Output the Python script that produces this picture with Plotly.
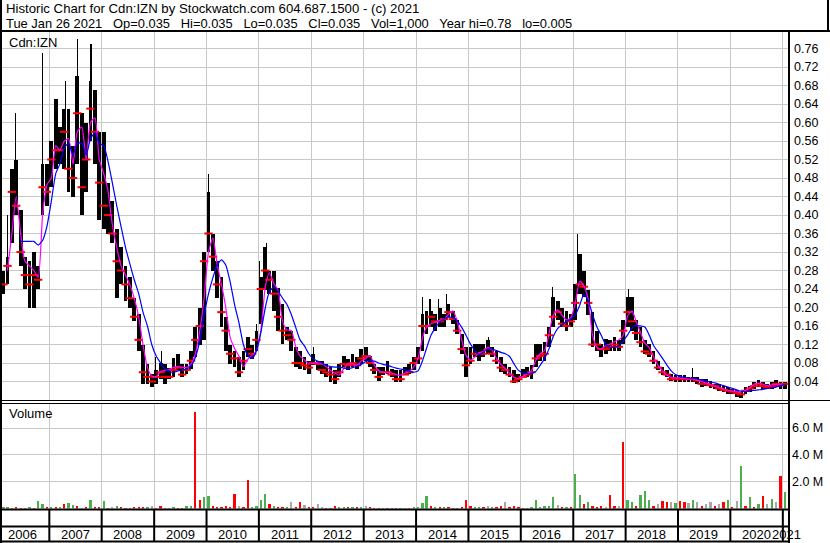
import plotly.graph_objects as go
import pandas as pd

# ---------------- data (monthly, Feb 2006 .. Jan 2021) ----------------
start_month = "2006-02-01"
n_months = 180

low = [
    0.23, 0.25, 0.34, 0.40, 0.29, 0.24, 0.20, 0.20, 0.24, 0.40, 0.42,
    0.46, 0.50, 0.51, 0.50, 0.45, 0.44, 0.51, 0.40, 0.45, 0.56, 0.51, 0.39,
    0.37, 0.36, 0.34, 0.22, 0.25, 0.215, 0.20, 0.17, 0.107, 0.035, 0.035, 0.028,
    0.035, 0.045, 0.035, 0.045, 0.05, 0.064, 0.049, 0.057, 0.067, 0.093, 0.12, 0.13,
    0.32, 0.28, 0.22, 0.157, 0.107, 0.078, 0.071, 0.049, 0.064, 0.093, 0.089, 0.107,
    0.165, 0.237, 0.23, 0.193, 0.15, 0.121, 0.129, 0.107, 0.071, 0.067, 0.064, 0.057,
    0.075, 0.064, 0.057, 0.049, 0.039, 0.035, 0.049, 0.071, 0.064, 0.071, 0.067, 0.078,
    0.085, 0.071, 0.057, 0.042, 0.053, 0.057, 0.049, 0.039, 0.039, 0.053, 0.057, 0.064,
    0.078, 0.107, 0.143, 0.157, 0.15, 0.157, 0.157, 0.179, 0.165, 0.143, 0.10, 0.05,
    0.078, 0.093, 0.085, 0.093, 0.10, 0.093, 0.078, 0.06, 0.057, 0.049, 0.036, 0.039,
    0.049, 0.049, 0.046, 0.071, 0.085, 0.085, 0.114, 0.157, 0.172, 0.157, 0.15, 0.157,
    0.172, 0.23, 0.222, 0.183, 0.114, 0.107, 0.093, 0.10, 0.107, 0.107, 0.107, 0.121,
    0.157, 0.15, 0.129, 0.114, 0.10, 0.093, 0.078, 0.064, 0.053, 0.049, 0.042, 0.039,
    0.039, 0.039, 0.039, 0.039, 0.035, 0.028, 0.031, 0.026, 0.024, 0.02, 0.017, 0.013,
    0.013, 0.006, 0.005, 0.013, 0.017, 0.024, 0.028, 0.024, 0.024, 0.024, 0.028, 0.024,
    0.024,
]

high = [
    0.28, 0.31, 0.50, 0.52, 0.41, 0.31, 0.30, 0.32, 0.29, 0.51, 0.51,
    0.56, 0.65, 0.59, 0.63, 0.63, 0.55, 0.70, 0.62, 0.60, 0.69, 0.67, 0.58,
    0.58, 0.47, 0.43, 0.37, 0.33, 0.29, 0.265, 0.22, 0.185, 0.12, 0.078, 0.057,
    0.064, 0.08, 0.078, 0.07, 0.09, 0.10, 0.078, 0.078, 0.107, 0.157, 0.20, 0.32,
    0.45, 0.36, 0.30, 0.265, 0.18, 0.12, 0.107, 0.093, 0.107, 0.136, 0.12, 0.15,
    0.265, 0.33, 0.28, 0.28, 0.243, 0.208, 0.157, 0.15, 0.114, 0.107, 0.093, 0.085,
    0.10, 0.085, 0.085, 0.078, 0.071, 0.064, 0.078, 0.096, 0.089, 0.10, 0.093, 0.11,
    0.115, 0.096, 0.078, 0.071, 0.071, 0.085, 0.067, 0.064, 0.064, 0.071, 0.078, 0.093,
    0.114, 0.186, 0.193, 0.193, 0.186, 0.20, 0.186, 0.208, 0.193, 0.172, 0.143, 0.114,
    0.114, 0.121, 0.121, 0.121, 0.129, 0.114, 0.107, 0.093, 0.078, 0.071, 0.064, 0.057,
    0.067, 0.071, 0.075, 0.121, 0.121, 0.125, 0.157, 0.222, 0.215, 0.20, 0.193, 0.186,
    0.25, 0.316, 0.28, 0.237, 0.19, 0.15, 0.121, 0.132, 0.129, 0.136, 0.129, 0.172,
    0.222, 0.222, 0.172, 0.157, 0.129, 0.121, 0.107, 0.085, 0.071, 0.064, 0.057, 0.053,
    0.053, 0.053, 0.049, 0.049, 0.049, 0.046, 0.046, 0.042, 0.035, 0.035, 0.031, 0.028,
    0.024, 0.021, 0.017, 0.029, 0.031, 0.039, 0.044, 0.039, 0.035, 0.039, 0.044, 0.039,
    0.039,
]

close = [
    0.25, 0.29, 0.45, 0.42, 0.32, 0.27, 0.25, 0.27, 0.26, 0.46, 0.45,
    0.52, 0.54, 0.54, 0.58, 0.50, 0.48, 0.62, 0.46, 0.52, 0.63, 0.58, 0.47,
    0.42, 0.40, 0.36, 0.30, 0.28, 0.25, 0.22, 0.18, 0.13, 0.06, 0.05, 0.04,
    0.05, 0.06, 0.05, 0.05, 0.065, 0.07, 0.055, 0.065, 0.085, 0.13, 0.16, 0.30,
    0.36, 0.31, 0.25, 0.19, 0.15, 0.10, 0.09, 0.06, 0.085, 0.11, 0.10, 0.13,
    0.24, 0.28, 0.26, 0.23, 0.18, 0.15, 0.14, 0.13, 0.08, 0.08, 0.075, 0.07,
    0.08, 0.078, 0.065, 0.06, 0.055, 0.045, 0.06, 0.078, 0.075, 0.08, 0.075, 0.09,
    0.095, 0.08, 0.065, 0.05, 0.06, 0.06, 0.055, 0.045, 0.045, 0.055, 0.06, 0.08,
    0.09, 0.16, 0.16, 0.18, 0.17, 0.17, 0.175, 0.19, 0.175, 0.15, 0.11, 0.075,
    0.085, 0.10, 0.10, 0.10, 0.11, 0.10, 0.085, 0.07, 0.065, 0.055, 0.04, 0.045,
    0.05, 0.055, 0.06, 0.09, 0.095, 0.10, 0.14, 0.18, 0.19, 0.165, 0.16, 0.17,
    0.21, 0.25, 0.245, 0.21, 0.12, 0.12, 0.11, 0.11, 0.115, 0.12, 0.115, 0.15,
    0.19, 0.17, 0.145, 0.125, 0.105, 0.10, 0.085, 0.07, 0.06, 0.055, 0.045, 0.045,
    0.045, 0.045, 0.045, 0.045, 0.042, 0.035, 0.035, 0.032, 0.03, 0.025, 0.022, 0.02,
    0.018, 0.015, 0.012, 0.02, 0.025, 0.03, 0.035, 0.03, 0.028, 0.03, 0.035, 0.032,
    0.035,
]

ma_fast = [
    None, 0.28, 0.36, 0.44, 0.36, 0.30, 0.29, 0.28, 0.265, 0.40, 0.465,
    0.48, 0.55, 0.54, 0.56, 0.565, 0.51, 0.58, 0.59, 0.52, 0.60, 0.61, 0.52,
    0.49, 0.45, 0.38, 0.33, 0.29, 0.27, 0.25, 0.22, 0.18, 0.12, 0.07, 0.052,
    0.05, 0.062, 0.064, 0.066, 0.07, 0.072, 0.071, 0.07, 0.078, 0.10, 0.15, 0.22,
    0.32, 0.35, 0.295, 0.25, 0.20, 0.135, 0.112, 0.095, 0.072, 0.088, 0.097, 0.107,
    0.15, 0.245, 0.275, 0.252, 0.237, 0.17, 0.152, 0.15, 0.115, 0.095, 0.087, 0.078,
    0.079, 0.081, 0.078, 0.072, 0.064, 0.058, 0.054, 0.068, 0.078, 0.078, 0.075, 0.084,
    0.09, 0.096, 0.076, 0.064, 0.06, 0.06, 0.058, 0.055, 0.054, 0.058, 0.062, 0.071,
    0.09, 0.135, 0.157, 0.165, 0.168, 0.172, 0.175, 0.185, 0.193, 0.17, 0.13, 0.097,
    0.086, 0.093, 0.102, 0.105, 0.114, 0.108, 0.09, 0.077, 0.068, 0.058, 0.049, 0.047,
    0.051, 0.057, 0.063, 0.086, 0.10, 0.107, 0.142, 0.184, 0.195, 0.183, 0.173, 0.178,
    0.21, 0.257, 0.247, 0.218, 0.14, 0.114, 0.11, 0.118, 0.121, 0.126, 0.13, 0.14,
    0.182, 0.192, 0.17, 0.146, 0.123, 0.113, 0.093, 0.075, 0.063, 0.054, 0.049, 0.048,
    0.048, 0.047, 0.046, 0.046, 0.043, 0.04, 0.037, 0.033, 0.03, 0.027, 0.024, 0.021,
    0.019, 0.018, 0.017, 0.021, 0.027, 0.034, 0.036, 0.034, 0.031, 0.033, 0.034, 0.034,
    0.034,
]

ma_slow = [
    None, None, None, None, 0.343, 0.343, 0.343, 0.343, 0.335, 0.345, 0.375,
    0.43, 0.49, 0.51, 0.545, 0.555, 0.53, 0.555, 0.555, 0.53, 0.565, 0.578, 0.555,
    0.55, 0.515, 0.47, 0.42, 0.375, 0.33, 0.295, 0.26, 0.23, 0.19, 0.16, 0.12,
    0.095, 0.08, 0.068, 0.062, 0.06, 0.063, 0.065, 0.067, 0.074, 0.092, 0.128, 0.183,
    0.23, 0.265, 0.29, 0.303, 0.292, 0.255, 0.207, 0.167, 0.12, 0.097, 0.09, 0.106,
    0.146, 0.20, 0.234, 0.244, 0.235, 0.22, 0.207, 0.185, 0.157, 0.13, 0.117, 0.10,
    0.089, 0.084, 0.08, 0.075, 0.072, 0.071, 0.071, 0.069, 0.068, 0.07, 0.073, 0.077,
    0.083, 0.085, 0.084, 0.08, 0.077, 0.075, 0.072, 0.069, 0.067, 0.065, 0.062, 0.06,
    0.063, 0.085, 0.112, 0.14, 0.156, 0.169, 0.175, 0.179, 0.178, 0.171, 0.157, 0.14,
    0.121, 0.107, 0.098, 0.103, 0.11, 0.11, 0.107, 0.103, 0.1, 0.094, 0.078, 0.064,
    0.059, 0.057, 0.057, 0.062, 0.075, 0.09, 0.11, 0.138, 0.155, 0.163, 0.17, 0.175,
    0.184, 0.205, 0.228, 0.215, 0.185, 0.158, 0.14, 0.12, 0.114, 0.114, 0.117, 0.128,
    0.141, 0.156, 0.161, 0.16, 0.158, 0.14, 0.118, 0.104, 0.09, 0.076, 0.063, 0.055,
    0.051, 0.049, 0.048, 0.047, 0.046, 0.043, 0.041, 0.039, 0.037, 0.034, 0.031, 0.028,
    0.025, 0.022, 0.019, 0.018, 0.02, 0.021, 0.022, 0.023, 0.025, 0.026, 0.028, 0.031,
    0.034,
]

spike_dates = ["2006-03-13", "2006-05-08", "2006-11-12", "2007-04-21", "2007-07-14",
               "2007-10-18", "2009-01-08", "2009-02-22", "2010-01-13", "2010-12-16",
               "2011-01-08", "2011-02-24", "2012-01-15", "2014-02-16", "2014-04-08",
               "2014-06-09", "2014-08-02", "2015-05-19", "2016-08-11", "2017-02-01",
               "2018-01-19", "2019-04-10"]
spike_high = [0.40, 0.62, 0.75, 0.69, 0.78, 0.77, 0.093, 0.107, 0.489, 0.165,
              0.30, 0.34, 0.114, 0.222, 0.219, 0.219, 0.23, 0.136, 0.245, 0.36,
              0.24, 0.07]

volume_m = [
    0.08, 0.13, 0.06, 0.10, 0.05, 0.06, 0.10, 0.05, 0.54, 0.30, 0.10,
    0.08, 0.10, 0.12, 0.33, 0.40, 0.25, 0.15, 0.07, 0.10, 0.64, 0.10, 0.08,
    0.55, 0.07, 0.10, 0.20, 0.08, 0.06, 0.07, 0.10, 0.08, 0.12, 0.08, 0.15,
    0.05, 0.20, 0.05, 0.04, 0.08, 0.05, 0.04, 0.20, 0.15, 7.2, 0.60, 0.85,
    0.90, 0.15, 0.10, 0.12, 0.15, 0.10, 1.10, 0.20, 0.10, 2.10, 0.10, 0.15,
    0.62, 1.10, 0.30, 0.15, 0.10, 0.12, 0.10, 0.46, 0.10, 0.45, 0.25, 0.10,
    0.10, 0.33, 0.10, 0.05, 0.06, 0.20, 0.08, 0.10, 0.12, 0.08, 0.12, 0.08,
    0.15, 0.08, 0.06, 0.05, 0.05, 0.06, 0.04, 0.05, 0.05, 0.04, 0.05, 0.08,
    0.08, 0.38, 0.92, 0.15, 0.10, 0.10, 0.08, 0.10, 0.06, 0.06, 0.10, 0.64,
    0.20, 0.10, 0.12, 0.10, 0.15, 0.10, 0.10, 0.20, 0.46, 0.10, 0.20, 0.10,
    0.05, 0.05, 0.08, 0.67, 0.12, 0.20, 0.20, 0.85, 0.25, 0.12, 0.12, 0.10,
    2.60, 1.00, 0.30, 0.45, 0.15, 0.10, 0.20, 0.12, 1.00, 0.20, 0.15, 5.00,
    0.60, 0.45, 0.20, 1.00, 1.30, 0.60, 0.20, 0.35, 0.55, 0.45, 0.50, 0.40,
    0.55, 0.45, 0.40, 0.65, 0.50, 0.15, 0.30, 0.45, 0.20, 0.30, 0.50, 0.60,
    0.10, 0.55, 3.15, 0.20, 0.85, 0.10, 0.30, 0.92, 0.30, 0.70, 0.45, 2.40,
    1.23,
]
volume_dir = (
    "ggrrrrgrggr"
    "grgrggrgrgrr"
    "grngrrrrrrgn"
    "rrrggrrggrrg"
    "grrrrrrnrrgg"
    "ggrgrrgnrrnr"
    "rnnrrrggrgrg"
    "nrrrgrrrggrg"
    "gggrgrgrrrrr"
    "rggrngrrnrrr"
    "rgggggggnrgr"
    "ggrgrrrnrrnr"
    "ggrgggrnrrng"
    "rrngnrnnrnrg"
    "rngrgrgrngnr"
    "g"
)

price_ticks = [0.04, 0.08, 0.12, 0.16, 0.20, 0.24, 0.28, 0.32, 0.36, 0.40,
               0.44, 0.48, 0.52, 0.56, 0.60, 0.64, 0.68, 0.72, 0.76]
volume_ticks = [2, 4, 6]
volume_tick_text = ["2.0 M", "4.0 M", "6.0 M"]
years = list(range(2006, 2022))

SP = "\u00a0\u00a0 "
title1 = "Historic Chart for Cdn:IZN by Stockwatch.com 604.687.1500 - (c) 2021"
title2 = ("Tue Jan 26 2021" + SP + "Op=0.035" + SP + "Hi=0.035" + SP + "Lo=0.035" + SP +
          "Cl=0.035" + SP + "Vol=1,000" + SP + "Year hi=0.78" + SP + "lo=0.005")

# ---------------- geometry ----------------
W, H = 830, 543
LPX, RPX, TPX, BPX = 2, 789, 31, 510
DAY = 86400000
FONT = "Liberation Sans, Arial, sans-serif"


def X(px):
    return (px - LPX) / (RPX - LPX)


def Y(py):
    return (BPX - py) / (BPX - TPX)


months = pd.date_range(start_month, periods=n_months, freq="MS")
mid = months + pd.Timedelta(days=14)

month_index = {(d.year, d.month): i for i, d in enumerate(months)}
spike_base = []
for s in spike_dates:
    d = pd.Timestamp(s)
    spike_base.append(low[month_index[(d.year, d.month)]])

color_map = {"r": "#ff0000", "g": "#4cae4c", "n": "#a8a8a8"}
vol_colors = [color_map[c] for c in volume_dir]

fig = go.Figure()

fig.add_trace(go.Bar(
    x=mid, y=[h - l for h, l in zip(high, low)], base=low,
    width=26 * DAY, marker=dict(color="black", line=dict(width=0)),
    xaxis="x", yaxis="y", hoverinfo="skip"))

fig.add_trace(go.Bar(
    x=pd.to_datetime(spike_dates), y=[s - b for s, b in zip(spike_high, spike_base)],
    base=spike_base, width=8 * DAY, marker=dict(color="black", line=dict(width=0)),
    xaxis="x", yaxis="y", hoverinfo="skip"))

fig.add_trace(go.Scatter(
    x=mid, y=close, mode="markers",
    marker=dict(symbol="line-ew", size=6, color="#ff0000",
                line=dict(color="#ff0000", width=2)),
    xaxis="x", yaxis="y", hoverinfo="skip"))

fig.add_trace(go.Scatter(
    x=mid, y=ma_fast, mode="lines",
    line=dict(color="#ff00ff", width=1.2, shape="spline", smoothing=0.6),
    xaxis="x", yaxis="y", hoverinfo="skip"))

fig.add_trace(go.Scatter(
    x=mid, y=ma_slow, mode="lines",
    line=dict(color="#0000ff", width=1.2, shape="spline", smoothing=0.6),
    xaxis="x", yaxis="y", hoverinfo="skip"))

fig.add_trace(go.Bar(
    x=mid, y=volume_m, width=16 * DAY,
    marker=dict(color=vol_colors, line=dict(width=0)),
    xaxis="x", yaxis="y2", hoverinfo="skip"))

grid = "#c8c8c8"
fig.update_layout(
    width=W, height=H,
    margin=dict(l=LPX, r=W - RPX, t=TPX, b=H - BPX, pad=0, autoexpand=False),
    paper_bgcolor="white", plot_bgcolor="white",
    showlegend=False, barmode="overlay", bargap=0,
    font=dict(family=FONT, size=12, color="black"),
    xaxis=dict(type="date", range=["2006-02-05", "2021-02-13"],
               showgrid=True, gridcolor=grid, gridwidth=1,
               tick0="2006-01-01", dtick="M12", showticklabels=False,
               ticks="", zeroline=False, showline=False, fixedrange=True),
    yaxis=dict(domain=[Y(400), 1.0], range=[0, (400 - TPX) / 462.5],
               side="right", anchor="x", tickvals=price_ticks,
               ticktext=["%.2f" % v for v in price_ticks],
               tickfont=dict(family=FONT, size=12.5, color="black"),
               showgrid=True, gridcolor=grid, gridwidth=1,
               zeroline=False, showline=False, ticks="",
               ticklabelstandoff=4, fixedrange=True),
    yaxis2=dict(domain=[Y(508.5), Y(403)], range=[0, (508.5 - 403) / 13.4],
                side="right", anchor="x", tickvals=volume_ticks,
                ticktext=volume_tick_text,
                tickfont=dict(family=FONT, size=12.5, color="black"),
                showgrid=True, gridcolor=grid, gridwidth=1,
                zeroline=False, showline=False, ticks="",
                ticklabelstandoff=2, fixedrange=True),
)

shapes = []


def hline(py, x0, x1, w=1):
    shapes.append(dict(type="line", xref="paper", yref="paper",
                       x0=X(x0), x1=X(x1), y0=Y(py), y1=Y(py),
                       line=dict(color="black", width=w), layer="above"))


def vline(px, y0, y1, w=1):
    shapes.append(dict(type="line", xref="paper", yref="paper",
                       x0=X(px), x1=X(px), y0=Y(y0), y1=Y(y1),
                       line=dict(color="black", width=w), layer="above"))


hline(31, 0, 830, 2)          # title separator
vline(828, 0, 31, 2)          # title box right
vline(1, 0, 543, 2)           # left frame
vline(789, 31, 543, 2)        # right frame of plot
hline(400.5, 2, 830, 1)       # double separator
hline(403.5, 2, 789, 1)
hline(509.5, 0, 789, 2)       # volume bottom
hline(526.5, 0, 789, 2)
hline(541.5, 0, 789, 2)       # bottom

for yr in years[1:]:
    t = pd.Timestamp("%d-01-01" % yr)
    shapes.append(dict(type="line", xref="x", yref="paper",
                       x0=t, x1=t, y0=Y(510), y1=Y(541),
                       line=dict(color="black", width=2), layer="above"))

fig.update_layout(shapes=shapes)

ann = []


def text(px, py, s, size=13, anchor="left"):
    ann.append(dict(xref="paper", yref="paper", x=X(px), y=Y(py), text=s,
                    showarrow=False, xanchor=anchor, yanchor="middle",
                    font=dict(family=FONT, size=size, color="black"),
                    borderpad=0))


text(5, 8.5, title1, 13.2)
text(5, 23.5, title2, 12.9)
text(8, 42, "Cdn:IZN")
text(8, 413, "Volume")

for yr in years:
    if yr == 2021:
        t = pd.Timestamp("2021-01-25")
    else:
        t = pd.Timestamp("%d-07-01" % yr)
    ann.append(dict(xref="x", yref="paper", x=t, y=Y(534.5), text=str(yr),
                    showarrow=False, xanchor="center", yanchor="middle",
                    font=dict(family=FONT, size=13, color="black"),
                    borderpad=0))

fig.update_layout(annotations=ann)

fig.write_html("out.html",
               config={"displayModeBar": False, "staticPlot": True},
               post_script="document.body.style.margin='0';document.body.style.padding='0';"
                           "document.documentElement.style.overflow='hidden';")
